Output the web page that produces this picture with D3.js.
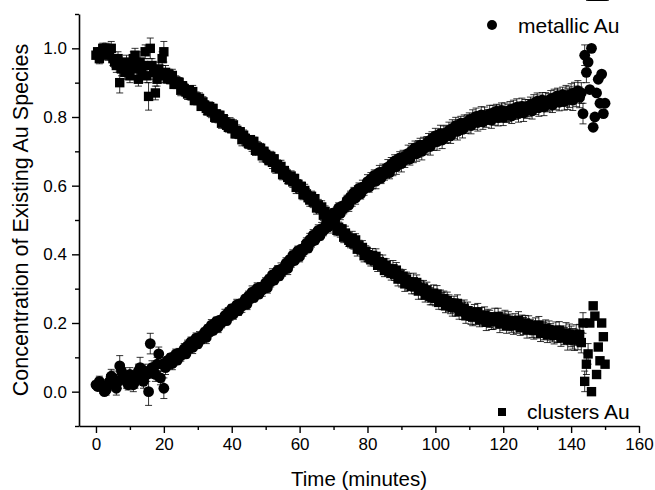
<!DOCTYPE html>
<html>
<head>
<meta charset="utf-8">
<script src="https://cdn.jsdelivr.net/npm/d3@7"></script>
<style>
  body { margin: 0; background: #fff; }
  svg { display: block; font-family: "Liberation Sans", Arial, sans-serif; }
</style>
</head>
<body>
<div id="chart"></div>
<script>
// sample times (minutes)
var times = [
  0, 0.5, 1, 1.5, 2, 2.5, 3, 3.5, 4, 4.5, 5, 5.5, 6, 6.5, 7, 7.5, 8, 8.5, 9, 9.5,
  10, 10.5, 11, 11.5, 12, 12.5, 13, 13.5, 14, 14.5, 15, 15.5, 16, 16.5, 17, 17.5, 18, 18.5, 19, 19.5,
  20, 20.5,
  21, 21.5, 22, 22.5, 23, 23.5, 24, 24.5, 25, 25.5,
  26, 26.5, 27, 27.5, 28, 28.5, 29, 29.5, 30, 30.5,
  31, 31.5, 32, 32.5, 33, 33.5, 34, 34.5, 35, 35.5,
  36, 36.5, 37, 37.5, 38, 38.5, 39, 39.5, 40, 40.5,
  41, 41.5, 42, 42.5, 43, 43.5, 44, 44.5, 45, 45.5,
  46, 46.5, 47, 47.5, 48, 48.5, 49, 49.5, 50, 50.5,
  51, 51.5, 52, 52.5, 53, 53.5, 54, 54.5, 55, 55.5,
  56, 56.5, 57, 57.5, 58, 58.5, 59, 59.5, 60, 60.5,
  61, 61.5, 62, 62.5, 63, 63.5, 64, 64.5, 65, 65.5,
  66, 66.5, 67, 67.5, 68, 68.5, 69, 69.5, 70, 70.5,
  71, 71.5, 72, 72.5, 73, 73.5, 74, 74.5, 75, 75.5,
  76, 76.5, 77, 77.5, 78, 78.5, 79, 79.5, 80, 80.5,
  81, 81.5, 82, 82.5, 83, 83.5, 84, 84.5, 85, 85.5,
  86, 86.5, 87, 87.5, 88, 88.5, 89, 89.5, 90, 90.5,
  91, 91.5, 92, 92.5, 93, 93.5, 94, 94.5, 95, 95.5,
  96, 96.5, 97, 97.5, 98, 98.5, 99, 99.5, 100, 100.5,
  101, 101.5, 102, 102.5, 103, 103.5, 104, 104.5, 105, 105.5,
  106, 106.5, 107, 107.5, 108, 108.5, 109, 109.5, 110, 110.5,
  111, 111.5, 112, 112.5, 113, 113.5, 114, 114.5, 115, 115.5,
  116, 116.5, 117, 117.5, 118, 118.5, 119, 119.5, 120, 120.5,
  121, 121.5, 122, 122.5, 123, 123.5, 124, 124.5, 125, 125.5,
  126, 126.5, 127, 127.5, 128, 128.5, 129, 129.5, 130, 130.5,
  131, 131.5, 132, 132.5, 133, 133.5, 134, 134.5, 135, 135.5,
  136, 136.5, 137, 137.5, 138, 138.5, 139, 139.5, 140, 140.5,
  141, 141.5, 142, 142.5, 143,
  143.5, 144, 144.5, 145, 145.5, 146, 146.5, 147, 147.5, 148, 148.5, 149, 149.5, 150
];

// metallic Au (circles)
var metallic = [
  0.02, 0.015, 0.03, 0.02, 0.01, 0.00, 0.005, 0.02, 0.03, 0.045, 0.04, 0.02, 0.01, 0.03, 0.075, 0.06, 0.05, 0.04, 0.03, 0.02,
  0.05, 0.04, 0.02, 0.03, 0.04, 0.06, 0.07, 0.05, 0.03, 0.06, 0.05, 0.00, 0.14, 0.07, 0.06, 0.05, 0.08, 0.11, 0.04, 0.08,
  0.01, 0.07,
  0.090, 0.081, 0.099, 0.082, 0.097, 0.109, 0.092, 0.112, 0.105, 0.114,
  0.125, 0.110, 0.134, 0.126, 0.145, 0.129, 0.144, 0.156, 0.139, 0.159,
  0.152, 0.161, 0.173, 0.158, 0.183, 0.175, 0.194, 0.178, 0.193, 0.205,
  0.188, 0.208, 0.201, 0.210, 0.222, 0.207, 0.231, 0.223, 0.242, 0.226,
  0.241, 0.253, 0.236, 0.256, 0.249, 0.258, 0.270, 0.255, 0.279, 0.271,
  0.290, 0.274, 0.289, 0.301, 0.284, 0.304, 0.296, 0.305, 0.317, 0.303,
  0.328, 0.320, 0.340, 0.325, 0.340, 0.353, 0.337, 0.357, 0.351, 0.361,
  0.374, 0.359, 0.384, 0.377, 0.397, 0.382, 0.397, 0.410, 0.394, 0.415,
  0.409, 0.419, 0.432, 0.418, 0.443, 0.436, 0.456, 0.441, 0.457, 0.470,
  0.454, 0.475, 0.469, 0.480, 0.494, 0.480, 0.506, 0.500, 0.521, 0.506,
  0.522, 0.535, 0.519, 0.540, 0.534, 0.544, 0.557, 0.543, 0.568, 0.560,
  0.580, 0.564, 0.580, 0.592, 0.576, 0.596, 0.590, 0.599, 0.612, 0.596,
  0.620, 0.611, 0.630, 0.613, 0.628, 0.639, 0.622, 0.641, 0.634, 0.642,
  0.654, 0.638, 0.662, 0.653, 0.672, 0.655, 0.670, 0.681, 0.664, 0.683,
  0.675, 0.683, 0.694, 0.678, 0.701, 0.692, 0.710, 0.693, 0.707, 0.718,
  0.700, 0.719, 0.711, 0.719, 0.730, 0.714, 0.737, 0.727, 0.745, 0.728,
  0.741, 0.752, 0.733, 0.752, 0.743, 0.751, 0.761, 0.745, 0.767, 0.758,
  0.775, 0.758, 0.771, 0.782, 0.764, 0.782, 0.774, 0.781, 0.792, 0.775,
  0.796, 0.786, 0.802, 0.784, 0.796, 0.806, 0.786, 0.804, 0.794, 0.800,
  0.809, 0.791, 0.812, 0.801, 0.817, 0.798, 0.810, 0.819, 0.799, 0.816,
  0.806, 0.812, 0.821, 0.803, 0.824, 0.813, 0.829, 0.810, 0.822, 0.831,
  0.812, 0.829, 0.820, 0.826, 0.836, 0.818, 0.840, 0.829, 0.846, 0.827,
  0.840, 0.849, 0.829, 0.847, 0.837, 0.843, 0.853, 0.835, 0.856, 0.845,
  0.862, 0.843, 0.855, 0.865, 0.845, 0.862, 0.852, 0.858, 0.867, 0.849,
  0.871, 0.860, 0.876, 0.857, 0.870,
  0.81, 0.98, 0.93, 0.96, 0.88, 1.00, 0.77, 0.80, 0.87, 0.91, 0.84, 0.925, 0.81, 0.84
];

// clusters Au (squares)
var clusters = [
  0.98, 0.99, 0.97, 0.99, 1.00, 0.99, 1.00, 0.98, 0.99, 1.00, 0.97, 0.96, 0.95, 0.97, 0.90, 0.94, 0.95, 0.93, 0.96, 0.94,
  0.92, 0.95, 0.97, 0.98, 0.94, 0.91, 0.96, 0.93, 0.95, 0.99, 0.92, 0.86, 1.00, 0.95, 0.93, 0.87, 0.91, 0.94, 0.92, 0.97,
  0.99, 0.93,
  0.911, 0.924, 0.909, 0.921, 0.895, 0.905, 0.895, 0.901, 0.878, 0.891,
  0.883, 0.873, 0.867, 0.879, 0.863, 0.874, 0.848, 0.858, 0.848, 0.854,
  0.831, 0.844, 0.835, 0.825, 0.818, 0.830, 0.814, 0.825, 0.799, 0.809,
  0.799, 0.805, 0.782, 0.795, 0.786, 0.776, 0.770, 0.782, 0.766, 0.777,
  0.751, 0.761, 0.751, 0.757, 0.734, 0.747, 0.738, 0.728, 0.722, 0.734,
  0.718, 0.729, 0.703, 0.713, 0.703, 0.709, 0.687, 0.700, 0.691, 0.680,
  0.673, 0.685, 0.668, 0.678, 0.652, 0.661, 0.650, 0.656, 0.632, 0.644,
  0.634, 0.624, 0.617, 0.628, 0.611, 0.621, 0.595, 0.604, 0.593, 0.598,
  0.574, 0.586, 0.576, 0.565, 0.558, 0.569, 0.552, 0.562, 0.535, 0.544,
  0.533, 0.538, 0.514, 0.525, 0.514, 0.503, 0.495, 0.505, 0.487, 0.497,
  0.470, 0.479, 0.468, 0.474, 0.450, 0.462, 0.452, 0.441, 0.435, 0.447,
  0.430, 0.442, 0.415, 0.425, 0.414, 0.420, 0.396, 0.409, 0.399, 0.390,
  0.384, 0.397, 0.382, 0.394, 0.368, 0.379, 0.369, 0.376, 0.353, 0.367,
  0.359, 0.350, 0.345, 0.358, 0.342, 0.354, 0.328, 0.339, 0.329, 0.336,
  0.314, 0.328, 0.320, 0.312, 0.307, 0.320, 0.305, 0.318, 0.293, 0.304,
  0.295, 0.302, 0.281, 0.295, 0.287, 0.278, 0.273, 0.287, 0.272, 0.284,
  0.260, 0.272, 0.264, 0.271, 0.250, 0.265, 0.258, 0.249, 0.245, 0.258,
  0.244, 0.257, 0.233, 0.244, 0.235, 0.243, 0.221, 0.236, 0.228, 0.220,
  0.217, 0.232, 0.219, 0.232, 0.209, 0.221, 0.214, 0.222, 0.202, 0.218,
  0.212, 0.205, 0.203, 0.218, 0.205, 0.219, 0.197, 0.210, 0.203, 0.212,
  0.192, 0.208, 0.202, 0.195, 0.192, 0.207, 0.194, 0.208, 0.186, 0.199,
  0.191, 0.200, 0.180, 0.196, 0.189, 0.182, 0.178, 0.193, 0.180, 0.194,
  0.170, 0.183, 0.176, 0.185, 0.165, 0.181, 0.174, 0.167, 0.164, 0.179,
  0.165, 0.179, 0.156, 0.169, 0.162, 0.171, 0.151, 0.167, 0.161, 0.154,
  0.150, 0.165, 0.152, 0.166, 0.143,
  0.20, 0.03, 0.08, 0.11, 0.20, 0.00, 0.25, 0.22, 0.05, 0.13, 0.09, 0.20, 0.16, 0.08
];

// error bar half-heights (same for both species)
var errBar = [
  0.01, 0.01, 0.015, 0.01, 0.015, 0.01, 0.015, 0.015, 0.02, 0.02, 0.02, 0.015, 0.02, 0.02, 0.03, 0.02, 0.02, 0.02, 0.02, 0.015,
  0.02, 0.02, 0.02, 0.02, 0.02, 0.02, 0.03, 0.02, 0.02, 0.02, 0.02, 0.04, 0.03, 0.02, 0.02, 0.02, 0.02, 0.02, 0.02, 0.02,
  0.03, 0.02,
  0.012, 0.015, 0.012, 0.018, 0.012, 0.015, 0.012, 0.014, 0.016, 0.012,
  0.015, 0.012, 0.016, 0.012, 0.014, 0.018, 0.012, 0.015, 0.012, 0.016,
  0.012, 0.015, 0.012, 0.018, 0.012, 0.014, 0.016, 0.012, 0.015, 0.012,
  0.016, 0.012, 0.015, 0.012, 0.018, 0.012, 0.014, 0.016, 0.012, 0.015,
  0.012, 0.016, 0.014, 0.012, 0.018, 0.015, 0.012, 0.016, 0.014, 0.012,
  0.018, 0.012, 0.015, 0.016, 0.012, 0.014, 0.018, 0.012, 0.015, 0.016,
  0.012, 0.015, 0.018, 0.012, 0.016, 0.014, 0.012, 0.018, 0.015, 0.012,
  0.016, 0.018, 0.012, 0.015, 0.016, 0.012, 0.018, 0.014, 0.016, 0.012,
  0.015, 0.018, 0.016, 0.012, 0.018, 0.015, 0.016, 0.012, 0.018, 0.016,
  0.012, 0.018, 0.015, 0.016, 0.012, 0.018, 0.016, 0.015, 0.012, 0.018,
  0.016, 0.015, 0.018, 0.012, 0.016, 0.02, 0.015, 0.018, 0.016, 0.02,
  0.015, 0.018, 0.02, 0.016, 0.015, 0.02, 0.018, 0.016, 0.02, 0.015,
  0.018, 0.02, 0.016, 0.022, 0.018, 0.02, 0.016, 0.022, 0.018, 0.02,
  0.022, 0.018, 0.02, 0.024, 0.018, 0.022, 0.02, 0.018, 0.024, 0.02,
  0.022, 0.02, 0.024, 0.018, 0.022, 0.025, 0.02, 0.022, 0.024, 0.02,
  0.025, 0.022, 0.02, 0.024, 0.022, 0.025, 0.02, 0.024, 0.022, 0.025,
  0.02, 0.024, 0.025, 0.022, 0.02, 0.025, 0.024, 0.022, 0.025, 0.02,
  0.024, 0.025, 0.022, 0.02, 0.025, 0.024, 0.022, 0.025, 0.02, 0.024,
  0.025, 0.022, 0.024, 0.025, 0.02, 0.024, 0.022, 0.025, 0.024, 0.022,
  0.025, 0.024, 0.022, 0.025, 0.02, 0.024, 0.025, 0.022, 0.024, 0.025,
  0.022, 0.025, 0.024, 0.022, 0.025, 0.02, 0.024, 0.025, 0.022, 0.024,
  0.025, 0.022, 0.024, 0.025, 0.022, 0.024, 0.025, 0.022, 0.024, 0.025,
  0.024, 0.022, 0.025, 0.024, 0.022, 0.025, 0.024, 0.022, 0.025, 0.024,
  0.022, 0.025, 0.024, 0.022, 0.025,
  0.03, 0.03, 0.03, 0.03, 0.03, 0.03, 0.03, 0.03, 0.03, 0.03, 0.03, 0.03, 0.03, 0.03
];

var xMajor = [0, 20, 40, 60, 80, 100, 120, 140, 160];
var xMinor = [10, 30, 50, 70, 90, 110, 130, 150];
var yMajor = [0.0, 0.2, 0.4, 0.6, 0.8, 1.0];
var yMinor = [-0.1, 0.1, 0.3, 0.5, 0.7, 0.9, 1.1];

var width = 655, height = 490;
var svg = d3.select('#chart').append('svg')
    .attr('width', width)
    .attr('height', height);

var x = d3.scaleLinear().domain([-5, 160]).range([79, 639]);
var y = d3.scaleLinear().domain([-0.1, 1.1]).range([426, 14]);

var points = times.map(function (t, i) {
    return { t: t, m: metallic[i], c: clusters[i], e: errBar[i] };
});

// error bars
function drawErrors (key) {
    var g = svg.append('g')
        .attr('stroke', '#000')
        .attr('stroke-width', 0.8)
        .attr('fill', 'none');
    points.forEach(function (d) {
        var cx = x(d.t), top = y(d[key] + d.e), bot = y(d[key] - d.e);
        g.append('line').attr('x1', cx).attr('x2', cx).attr('y1', top).attr('y2', bot);
        g.append('line').attr('x1', cx - 3.5).attr('x2', cx + 3.5).attr('y1', top).attr('y2', top);
        g.append('line').attr('x1', cx - 3.5).attr('x2', cx + 3.5).attr('y1', bot).attr('y2', bot);
    });
}
drawErrors('m');
drawErrors('c');

svg.append('g').selectAll('circle')
    .data(points)
    .enter().append('circle')
    .attr('cx', function (d) { return x(d.t); })
    .attr('cy', function (d) { return y(d.m); })
    .attr('r', 5.4)
    .attr('fill', '#000');

svg.append('g').selectAll('rect')
    .data(points)
    .enter().append('rect')
    .attr('x', function (d) { return x(d.t) - 4.7; })
    .attr('y', function (d) { return y(d.c) - 4.7; })
    .attr('width', 9.4)
    .attr('height', 9.4)
    .attr('fill', '#000');

// axes
svg.append('g')
    .attr('transform', 'translate(0,426)')
    .call(d3.axisBottom(x).tickValues(xMajor).tickSize(7).tickSizeOuter(0).tickPadding(5));
svg.append('g')
    .attr('transform', 'translate(0,426)')
    .call(d3.axisBottom(x).tickValues(xMinor).tickSize(4).tickFormat(''))
    .select('.domain').remove();

svg.append('g')
    .attr('transform', 'translate(79,0)')
    .call(d3.axisLeft(y).tickValues(yMajor).tickSize(7).tickSizeOuter(0).tickPadding(5)
        .tickFormat(d3.format('.1f')));
svg.append('g')
    .attr('transform', 'translate(79,0)')
    .call(d3.axisLeft(y).tickValues(yMinor).tickSize(4).tickFormat(''))
    .select('.domain').remove();

svg.selectAll('.domain').attr('stroke-width', 1.6);
svg.selectAll('.tick line').attr('stroke-width', 1.4);
svg.selectAll('.tick text')
    .attr('font-family', '"Liberation Sans", Arial, sans-serif')
    .attr('font-size', 17)
    .attr('fill', '#000');

// axis titles
svg.append('text')
    .attr('x', 359)
    .attr('y', 486)
    .attr('text-anchor', 'middle')
    .attr('font-size', 20.5)
    .text('Time (minutes)');

svg.append('text')
    .attr('transform', 'translate(28,220) rotate(-90)')
    .attr('text-anchor', 'middle')
    .attr('font-size', 21.5)
    .text('Concentration of Existing Au Species');

// legend
svg.append('circle').attr('cx', 492).attr('cy', 25).attr('r', 5).attr('fill', '#000');
svg.append('text').attr('x', 518).attr('y', 33).attr('font-size', 21).text('metallic Au');

svg.append('rect').attr('x', 498).attr('y', 408).attr('width', 8).attr('height', 8).attr('fill', '#000');
svg.append('text').attr('x', 527).attr('y', 419).attr('font-size', 21).text('clusters Au');
</script>
</body>
</html>
